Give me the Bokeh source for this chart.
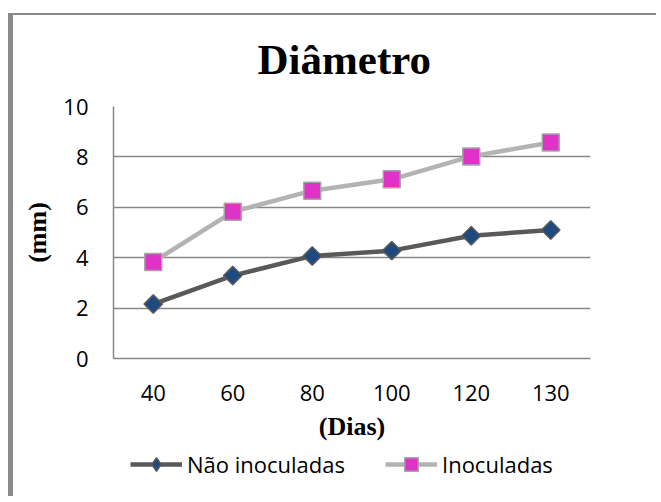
import math
from bokeh.plotting import figure
from bokeh.layouts import column
from bokeh.models import (Range1d, FactorRange, FixedTicker, Legend, LegendItem)
from bokeh.embed import file_html
from bokeh.resources import INLINE

# ---- data ----
dias = ["40", "60", "80", "100", "120", "130"]
nao_inoculadas = [2.16, 3.29, 4.07, 4.28, 4.87, 5.10]
inoculadas = [3.83, 5.82, 6.66, 7.11, 8.02, 8.57]
y_ticks = [0, 2, 4, 6, 8, 10]
series_names = ["Não inoculadas", "Inoculadas"]

# ---- layout constants ----
W, H1, H2 = 656, 446, 50
FL, FR, FT, FB = 113, 590, 106, 358  # frame edges in canvas px
GRID = "#878787"
C_NAO_LINE, C_NAO_FILL = "#595959", "#1F4A80"
C_INO_LINE, C_INO_FILL, C_INO_EDGE = "#B3B3B3", "#DF33C8", "#A6A6A6"

p = figure(width=W, height=H1, x_range=FactorRange(*dias), y_range=Range1d(0, 10),
           output_backend="svg", toolbar_location=None,
           min_border_left=FL, min_border_right=W - FR,
           min_border_top=FT, min_border_bottom=H1 - FB)
p.outline_line_color = None
p.background_fill_color = "white"
p.border_fill_color = None
# chart-area frame (left and top edges) painted behind the transparent canvas border
p.styles = {"background-color": "white",
            "box-shadow": "inset 8px 13px 0 0 white, inset 13px 15px 0 0 #8A8A8A"}

# title
p.title.text = "Diâmetro"
p.title.text_font = "Liberation Serif"
p.title.text_font_size = "43px"
p.title.text_font_style = "bold"
p.title.align = "left"
p.title.text_color = "black"
p.title.offset = 144
p.title.standoff = 48

# axes
p.yaxis.ticker = FixedTicker(ticks=y_ticks)
p.ygrid.ticker = FixedTicker(ticks=y_ticks)
p.xgrid.grid_line_color = None
p.ygrid.grid_line_color = GRID
p.ygrid.grid_line_width = 1.5

for ax in (p.xaxis, p.yaxis):
    ax.axis_line_color = GRID
    ax.axis_line_width = 1.5
    ax.major_tick_line_color = None
    ax.minor_tick_line_color = None
    ax.major_tick_out = 0
    ax.major_tick_in = 0
    ax.major_label_text_font = "Open Sans"
    ax.major_label_text_font_size = "22px"
    ax.major_label_text_color = "black"
    ax.axis_label_text_font = "Liberation Serif"
    ax.axis_label_text_font_size = "26px"
    ax.axis_label_text_font_style = "bold"
    ax.axis_label_text_color = "black"

p.xaxis.axis_label = "(Dias)"
p.xaxis.major_label_standoff = 26
p.xaxis.axis_label_standoff = 8
p.yaxis.axis_label = "(mm)"
p.yaxis.major_label_standoff = 25
p.yaxis.axis_label_standoff = 8

# series
p.line(dias, nao_inoculadas, line_color=C_NAO_LINE, line_width=4.5)
p.scatter(dias, nao_inoculadas, marker="square", angle=math.pi / 4, size=13,
          fill_color=C_NAO_FILL, line_color=C_NAO_LINE, line_width=1.5)
p.line(dias, inoculadas, line_color=C_INO_LINE, line_width=4.5)
p.scatter(dias, inoculadas, marker="square", size=17,
          fill_color=C_INO_FILL, line_color=C_INO_EDGE, line_width=1.5)

# ---- legend strip (own small figure below the chart) ----
q = figure(width=W, height=H2, x_range=FactorRange(*dias), y_range=Range1d(100, 101),
           output_backend="svg", toolbar_location=None,
           x_axis_location=None, y_axis_location=None,
           min_border_left=0, min_border_right=0, min_border_top=0, min_border_bottom=0)
q.grid.visible = False
q.outline_line_color = None
q.background_fill_color = None
q.border_fill_color = None
q.styles = {"background-color": "white",
            "box-shadow": "inset 8px 0 0 0 white, inset 13px 0 0 0 #8A8A8A"}

ql1 = q.line(dias, nao_inoculadas, line_color=C_NAO_LINE, line_width=4.5)
qm1 = q.scatter(dias, nao_inoculadas, marker="diamond", size=14,
                fill_color=C_NAO_FILL, line_color=C_NAO_LINE, line_width=1.5)
ql2 = q.line(dias, inoculadas, line_color=C_INO_LINE, line_width=4.5)
qm2 = q.scatter(dias, inoculadas, marker="square", size=14,
                fill_color=C_INO_FILL, line_color=C_INO_EDGE, line_width=1.5)

legend = Legend(items=[LegendItem(label=series_names[0], renderers=[ql1, qm1]),
                       LegendItem(label=series_names[1], renderers=[ql2, qm2])],
                orientation="horizontal", location=(17, 15),
                glyph_width=52, glyph_height=34, label_standoff=5, spacing=40,
                padding=0, margin=0, border_line_color=None,
                background_fill_alpha=0,
                label_text_font="Open Sans", label_text_font_size="22px",
                label_text_color="black")
q.add_layout(legend)

page = column(p, q, spacing=0)
open("out.html", "w").write(file_html(page, INLINE))
